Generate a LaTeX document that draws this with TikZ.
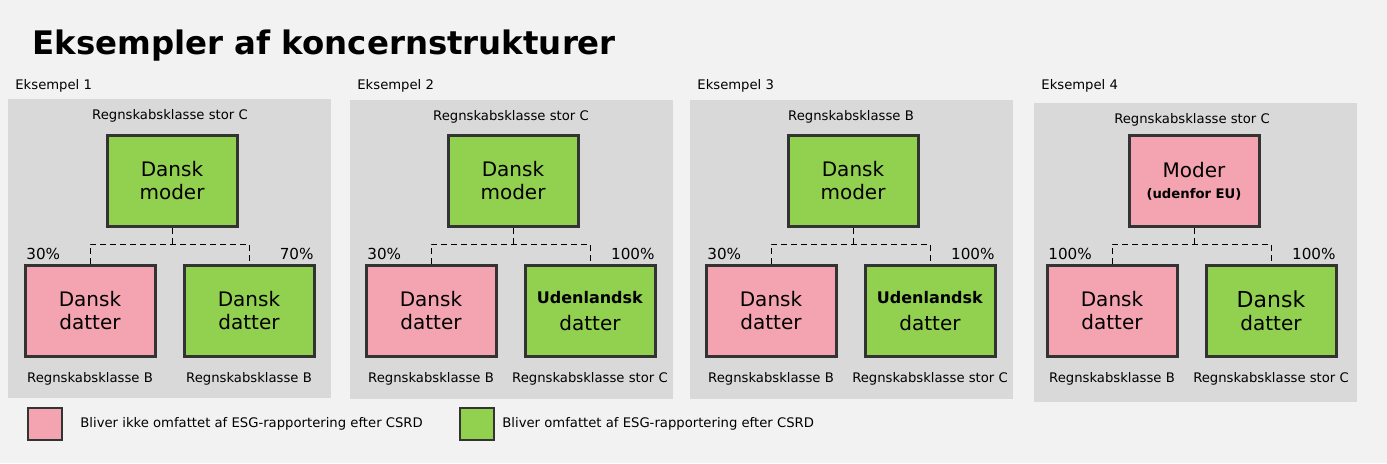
\documentclass[tikz,border=0pt]{standalone}
\usepackage{fontspec}
\setmainfont{DejaVu Sans}
\usetikzlibrary{positioning}
\definecolor{bggray}{HTML}{F2F2F2}
\definecolor{panelgray}{HTML}{D9D9D9}
\definecolor{pinkbox}{HTML}{F4A3B0}
\definecolor{greenbox}{HTML}{92D050}
\definecolor{edgegray}{HTML}{333333}
\begin{document}
\begin{tikzpicture}[
  x=0.5pt,y=-0.5pt,
  panel/.style={fill=panelgray,draw=none},
  entity/.style={draw=edgegray,line width=1.5pt,minimum width=65pt,minimum height=45.5pt,
    align=center,font=\fontsize{10}{11.5}\selectfont,inner sep=0pt},
  pinkent/.style={entity,fill=pinkbox},
  greenent/.style={entity,fill=greenbox},
  small/.style={font=\fontsize{6.6}{8}\selectfont,inner sep=0pt},
  pct/.style={font=\fontsize{7.6}{9}\selectfont,inner sep=0pt},
  link/.style={densely dashed,line width=0.5pt,black}
  ]
  \useasboundingbox[fill=bggray] (0,0) rectangle (1387,463);

  \node[anchor=west,inner sep=0pt,font=\fontsize{16.2}{20}\selectfont\bfseries] (title) at (32,46) {Eksempler af koncernstrukturer};

  % panels: offset / number / top class / mother / right daughter / pcts / bottom class
  \foreach \ox/\py/\n/\cls/\mstyle/\mtext/\rtext/\lp/\rp/\rcls in {
      0/0/1/Regnskabsklasse stor C/greenent/{Dansk\\moder}/{Dansk\\datter}/30\%/70\%/Regnskabsklasse B,
      341/1/2/Regnskabsklasse stor C/greenent/{Dansk\\moder}/{\textbf{\fontsize{8}{9}\selectfont Udenlandsk}\\[2pt]datter}/30\%/100\%/Regnskabsklasse stor C,
      681/1/3/Regnskabsklasse B/greenent/{Dansk\\moder}/{\textbf{\fontsize{8}{9}\selectfont Udenlandsk}\\[2pt]datter}/30\%/100\%/Regnskabsklasse stor C,
      1022/4/4/Regnskabsklasse stor C/pinkent/{Moder\\[-1pt]{\bfseries\fontsize{6.6}{8}\selectfont (udenfor EU)}}/{\fontsize{11}{13}\selectfont Dansk\\datter}/100\%/100\%/Regnskabsklasse stor C} {
    \fill[panelgray] (8+\ox+\py,99+\py) rectangle (331+\ox+\py,398+\py);
    \node[small,anchor=west] (ex\n) at (15+\ox+\py,86) {Eksempel \n};
    \node[small] (cls\n) at (170+\ox,116+\py) {\cls};
    \node[\mstyle] (m\n) at (172+\ox,181) {\mtext};
    \node[pinkent] (dl\n) at (90+\ox,311) {Dansk\\datter};
    \node[greenent] (dr\n) at (249+\ox,311) {\rtext};
    \node[pct,anchor=west] (pl\n) at (26+\ox,254) {\lp};
    \node[pct,anchor=east] (pr\n) at (314+\ox,254) {\rp};
    \node[small] (bl\n) at (dl\n.south) [yshift=-10.5pt] {Regnskabsklasse B};
    \node[small] (br\n) at (dr\n.south) [yshift=-10.5pt] {\rcls};
    \coordinate (j\n) at (172+\ox,244);
    \draw[link] (m\n.south) -- (j\n);
    \draw[link] (dl\n.north) |- (j\n) -| (dr\n.north);
  }

  % legend
  \node[entity,fill=pinkbox,minimum width=17pt,minimum height=16pt,line width=1pt] (legpink) at (45,424) {};
  \node[small,anchor=west] (legpinktxt) at (80,424) {Bliver ikke omfattet af ESG-rapportering efter CSRD};
  \node[entity,fill=greenbox,minimum width=17pt,minimum height=16pt,line width=1pt] (leggreen) at (477,424) {};
  \node[small,anchor=west] (leggreentxt) at (502,424) {Bliver omfattet af ESG-rapportering efter CSRD};
\end{tikzpicture}
\end{document}
